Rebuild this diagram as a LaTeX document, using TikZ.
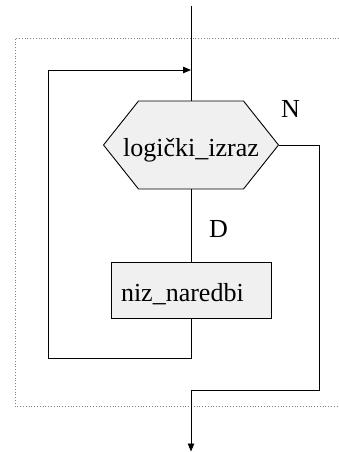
\documentclass[tikz,border=0pt]{standalone}
\usepackage{fontspec}
\setmainfont{Liberation Serif}
\usetikzlibrary{arrows.meta,positioning,calc,shapes.symbols}
\tikzset{
  fcbox/.style   ={draw=black, line width=.9pt, fill=black!6,
                   font=\fontsize{26}{30}\selectfont, text height=26pt, text depth=4pt},
  fcif/.style    ={fcbox, shape=signal, signal to=east and west,
                   signal pointer angle=103, minimum width=175pt,
                   minimum height=88pt, inner xsep=-16pt, inner ysep=0pt},
  fcstep/.style  ={fcbox, rectangle, minimum width=160pt, minimum height=56pt,
                   text width=140pt, align=left, inner xsep=10pt, inner ysep=0pt},
  fcarrow/.style ={-{Triangle[length=8pt,width=6.5pt]}, line width=.9pt},
  fcline/.style  ={line width=.9pt},
  fclabel/.style ={font=\fontsize{26}{30}\selectfont, inner sep=0pt, anchor=base},
  fcframe/.style ={draw=black!50, dotted, line width=.8pt},
}
\begin{document}
\begin{tikzpicture}[x=1pt, y=-1pt]
  \useasboundingbox (0,0) rectangle (339,452);

  % ---- okvir petlje ----
  \draw[fcframe] (339,38) -- (15,38) -- (15,406) -- (339,406);

  % ---- uvjet i tijelo petlje ----
  \node[fcif] (cond) at (191,145) {logički\_izraz};
  \node[fcstep] (body) at (191,290) {niz\_naredbi};

  \node[fclabel] (yes) at (218.5,237) {D};
  \node[fclabel] (no)  at (290.5,117) {N};

  % ---- tocke za linije ----
  \coordinate (in)    at (191,6);
  \coordinate (join)  at (191,70);
  \coordinate (backL) at (48,358);
  \coordinate (exitR) at (319,390);
  \coordinate (out)   at (191,451.5);

  % ---- linije ----
  \draw[fcline]  (in) -- (cond.north);
  \draw[fcline]  (cond.south) -- (body.north);
  \draw[fcarrow] (body.south) |- (backL) |- (join);
  \draw[fcarrow] (cond.east) -| (exitR) -| (out);

\end{tikzpicture}
\end{document}
